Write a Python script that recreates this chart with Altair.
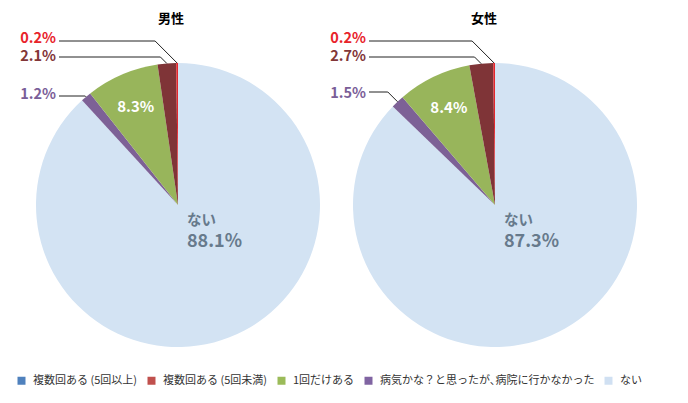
import math
import altair as alt
import pandas as pd

# ---------------- data ----------------
genders = ["男性", "女性"]
categories = [
    "複数回ある (5回以上)",
    "複数回ある (5回未満)",
    "1回だけある",
    "病気かな？と思ったが､病院に行かなかった",
    "ない",
]
male_values = [0.2, 2.1, 8.3, 1.2, 88.1]
female_values = [0.2, 2.7, 8.4, 1.5, 87.3]
values = {"男性": male_values, "女性": female_values}

# ---------------- styles ----------------
slice_colors = ["#e3262d", "#7f3437", "#98b55b", "#7d6196", "#d3e3f3"]
legend_colors = ["#4f81bd", "#c0504d", "#9bbb59", "#8064a2", "#d0e0f2"]
label_colors = ["#e8232a", "#823638", "#ffffff", "#7a5e98", "#677a8c"]
draw_order = [4, 3, 2, 1, 0]  # clockwise from 12 o'clock

# ---------------- layout (page pixels) ----------------
W, H = 672, 387
CX = {"男性": 178, "女性": 495}
CY = 205
R = 142
IN_R = 107
TITLE_X = {"男性": 171, "女性": 484}
TITLE_Y = 19
OUT_LABEL_RIGHT = {"男性": 56, "女性": 366}
OUT_LINE_START = {"男性": 59, "女性": 369}
OUT_LABEL_Y = {"男性": {0: 39, 1: 57, 3: 95}, "女性": {0: 39, 1: 57, 3: 94}}
OUT_LINE_Y = {"男性": {0: 41, 1: 57, 3: 96}, "女性": {0: 41, 1: 57, 3: 92}}
NAI_DX = 9
NAI_Y = 221
NAI_VAL_Y = 242

NUM_FONT = "Noto Sans CJK JP"
JP_FONT = "Noto Sans CJK JP"

arc_rows, out_rows, line_rows, in_rows, nai_rows, val_rows, title_rows = [], [], [], [], [], [], []
for g in genders:
    vals = values[g]
    total = sum(vals)
    cum = 0.0
    for i in draw_order:
        share = vals[i] / total * 100
        t0, t1 = cum, cum + share
        cum = t1
        mid = (t0 + t1) / 2 * 2 * math.pi / 100
        label = f"{vals[i]:.1f}%"
        arc_rows.append(dict(gender=g, cat=categories[i], t0=t0, t1=t1,
                             cx=CX[g], cy=CY, fill=slice_colors[i]))
        if i in (0, 1, 3):
            ex = CX[g] + R * math.sin(mid)
            ey = CY - R * math.cos(mid)
            ly = OUT_LINE_Y[g][i]
            elbow = ex - (ey - ly)
            out_rows.append(dict(x=OUT_LABEL_RIGHT[g], y=OUT_LABEL_Y[g][i],
                                 text=label, tc=label_colors[i]))
            key = f"{g}-{i}"
            for k, (px, py) in enumerate([(OUT_LINE_START[g], ly), (elbow, ly), (ex, ey)]):
                line_rows.append(dict(key=key, ord=k, x=px, y=py))
        elif i == 2:
            in_rows.append(dict(x=CX[g] + IN_R * math.sin(mid),
                                y=CY - IN_R * math.cos(mid), text=label))
        else:
            nai_rows.append(dict(x=CX[g] + NAI_DX, y=NAI_Y, text="ない"))
            val_rows.append(dict(x=CX[g] + NAI_DX, y=NAI_VAL_Y, text=label))
    title_rows.append(dict(x=TITLE_X[g], y=TITLE_Y, text=g))

arc_df = pd.DataFrame(arc_rows)
out_df = pd.DataFrame(out_rows)
line_df = pd.DataFrame(line_rows)
in_df = pd.DataFrame(in_rows)
nai_df = pd.DataFrame(nai_rows)
val_df = pd.DataFrame(val_rows)
title_df = pd.DataFrame(title_rows)
legend_df = pd.DataFrame({"cat": categories, "cx": [CX["男性"]] * 5, "cy": [CY] * 5})

xs = alt.Scale(domain=[8, 8 + W], zero=False, nice=False)
ys = alt.Scale(domain=[8 + H, 8], zero=False, nice=False)


def X(f):
    return alt.X(f, type="quantitative", scale=xs, axis=None)


def Y(f):
    return alt.Y(f, type="quantitative", scale=ys, axis=None)


legend_layer = alt.Chart(legend_df).mark_square(opacity=0, size=4).encode(
    x=X("cx"), y=Y("cy"),
    color=alt.Color(
        "cat:N",
        sort=categories,
        scale=alt.Scale(domain=categories, range=legend_colors),
        legend=alt.Legend(
            orient="none", legendX=8, legendY=367, direction="horizontal",
            title=None, symbolType="square", symbolSize=64, symbolOpacity=1,
            symbolStrokeWidth=0, labelFont=JP_FONT, labelFontSize=11,
            labelColor="#333333", labelLimit=400, columnPadding=8,
            labelOffset=6, padding=0,
        ),
    ),
)

arcs = alt.Chart(arc_df).mark_arc(stroke=None).encode(
    x=X("cx"), y=Y("cy"),
    theta=alt.Theta("t0:Q", scale=alt.Scale(domain=[0, 100], range=[0, 2 * math.pi])),
    theta2="t1:Q",
    radius=alt.value(R),
    fill=alt.Fill("fill:N", scale=None, legend=None),
)

lines = alt.Chart(line_df).mark_line(color="#222222", strokeWidth=1).encode(
    x=X("x"), y=Y("y"), detail="key:N", order="ord:Q",
)

out_text = alt.Chart(out_df).mark_text(
    align="right", baseline="middle", font=NUM_FONT, fontSize=14.5, fontWeight="bold"
).encode(x=X("x"), y=Y("y"), text="text:N", fill=alt.Fill("tc:N", scale=None, legend=None))

in_text = alt.Chart(in_df).mark_text(
    align="center", baseline="middle", font=NUM_FONT, fontSize=15, fontWeight="bold",
    color="#ffffff",
).encode(x=X("x"), y=Y("y"), text="text:N")

nai_text = alt.Chart(nai_df).mark_text(
    align="left", baseline="middle", font=JP_FONT, fontSize=14.5, fontWeight="bold",
    color=label_colors[4],
).encode(x=X("x"), y=Y("y"), text="text:N")

val_text = alt.Chart(val_df).mark_text(
    align="left", baseline="middle", font=NUM_FONT, fontSize=18, fontWeight="bold",
    color=label_colors[4],
).encode(x=X("x"), y=Y("y"), text="text:N")

titles = alt.Chart(title_df).mark_text(
    align="center", baseline="middle", font=JP_FONT, fontSize=13, fontWeight="bold",
    color="#000000",
).encode(x=X("x"), y=Y("y"), text="text:N")

chart = alt.layer(
    legend_layer, arcs, lines, out_text, in_text, nai_text, val_text, titles
).properties(
    width=W, height=H, padding=0,
    autosize=alt.AutoSizeParams(type="none"),
).configure_view(stroke=None)

chart.save("out.html", embed_options={"renderer": "svg", "actions": False})
